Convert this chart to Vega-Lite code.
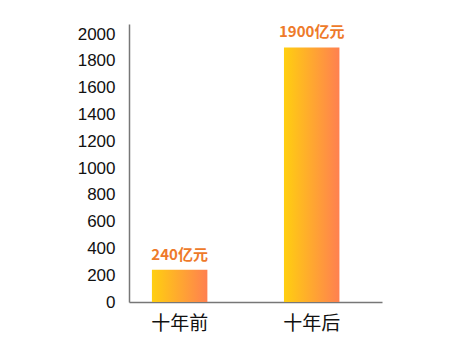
{
  "$schema": "https://vega.github.io/schema/vega-lite/v6.json",
  "width": 253,
  "height": 278,
  "padding": {"left": 129, "top": 24, "right": 68, "bottom": 58},
  "autosize": {"type": "none"},
  "background": "white",
  "config": {"view": {"stroke": null}, "font": "Noto Sans CJK SC"},
  "data": {"values": [
    {"period": "十年前", "value": 240, "label": "240亿元"},
    {"period": "十年后", "value": 1900, "label": "1900亿元"}
  ]},
  "encoding": {
    "x": {"field": "period", "type": "nominal", "sort": null,
      "scale": {"paddingInner": 0.58, "paddingOuter": 0.248, "align": 0.35},
      "axis": {"title": null, "labelAngle": 0, "ticks": false, "labelFontSize": 19, "labelColor": "#111", "labelPadding": 12, "domainColor": "#777", "domainWidth": 1.5, "labelFont": "Noto Sans CJK SC"}},
    "y": {"field": "value", "type": "quantitative",
      "scale": {"domain": [0, 2075], "nice": false},
      "axis": {"title": null, "format": "d", "values": [0,200,400,600,800,1000,1200,1400,1600,1800,2000], "grid": false, "ticks": false, "labelFontSize": 17, "labelColor": "#111", "labelPadding": 14, "domainColor": "#777", "domainWidth": 1.5, "labelFont": "Liberation Sans"}}
  },
  "layer": [
    {"mark": {"type": "bar", "color": {"gradient": "linear", "x1": 0, "x2": 1, "y1": 0, "y2": 0,
      "stops": [{"offset": 0, "color": "#FFCF10"}, {"offset": 1, "color": "#FF8050"}]}}},
    {"mark": {"type": "text", "dy": -15, "fontSize": 15, "fontWeight": "bold", "color": "#EE7A2A", "font": "Noto Sans CJK SC"},
      "encoding": {"text": {"field": "label"}}}
  ]
}
